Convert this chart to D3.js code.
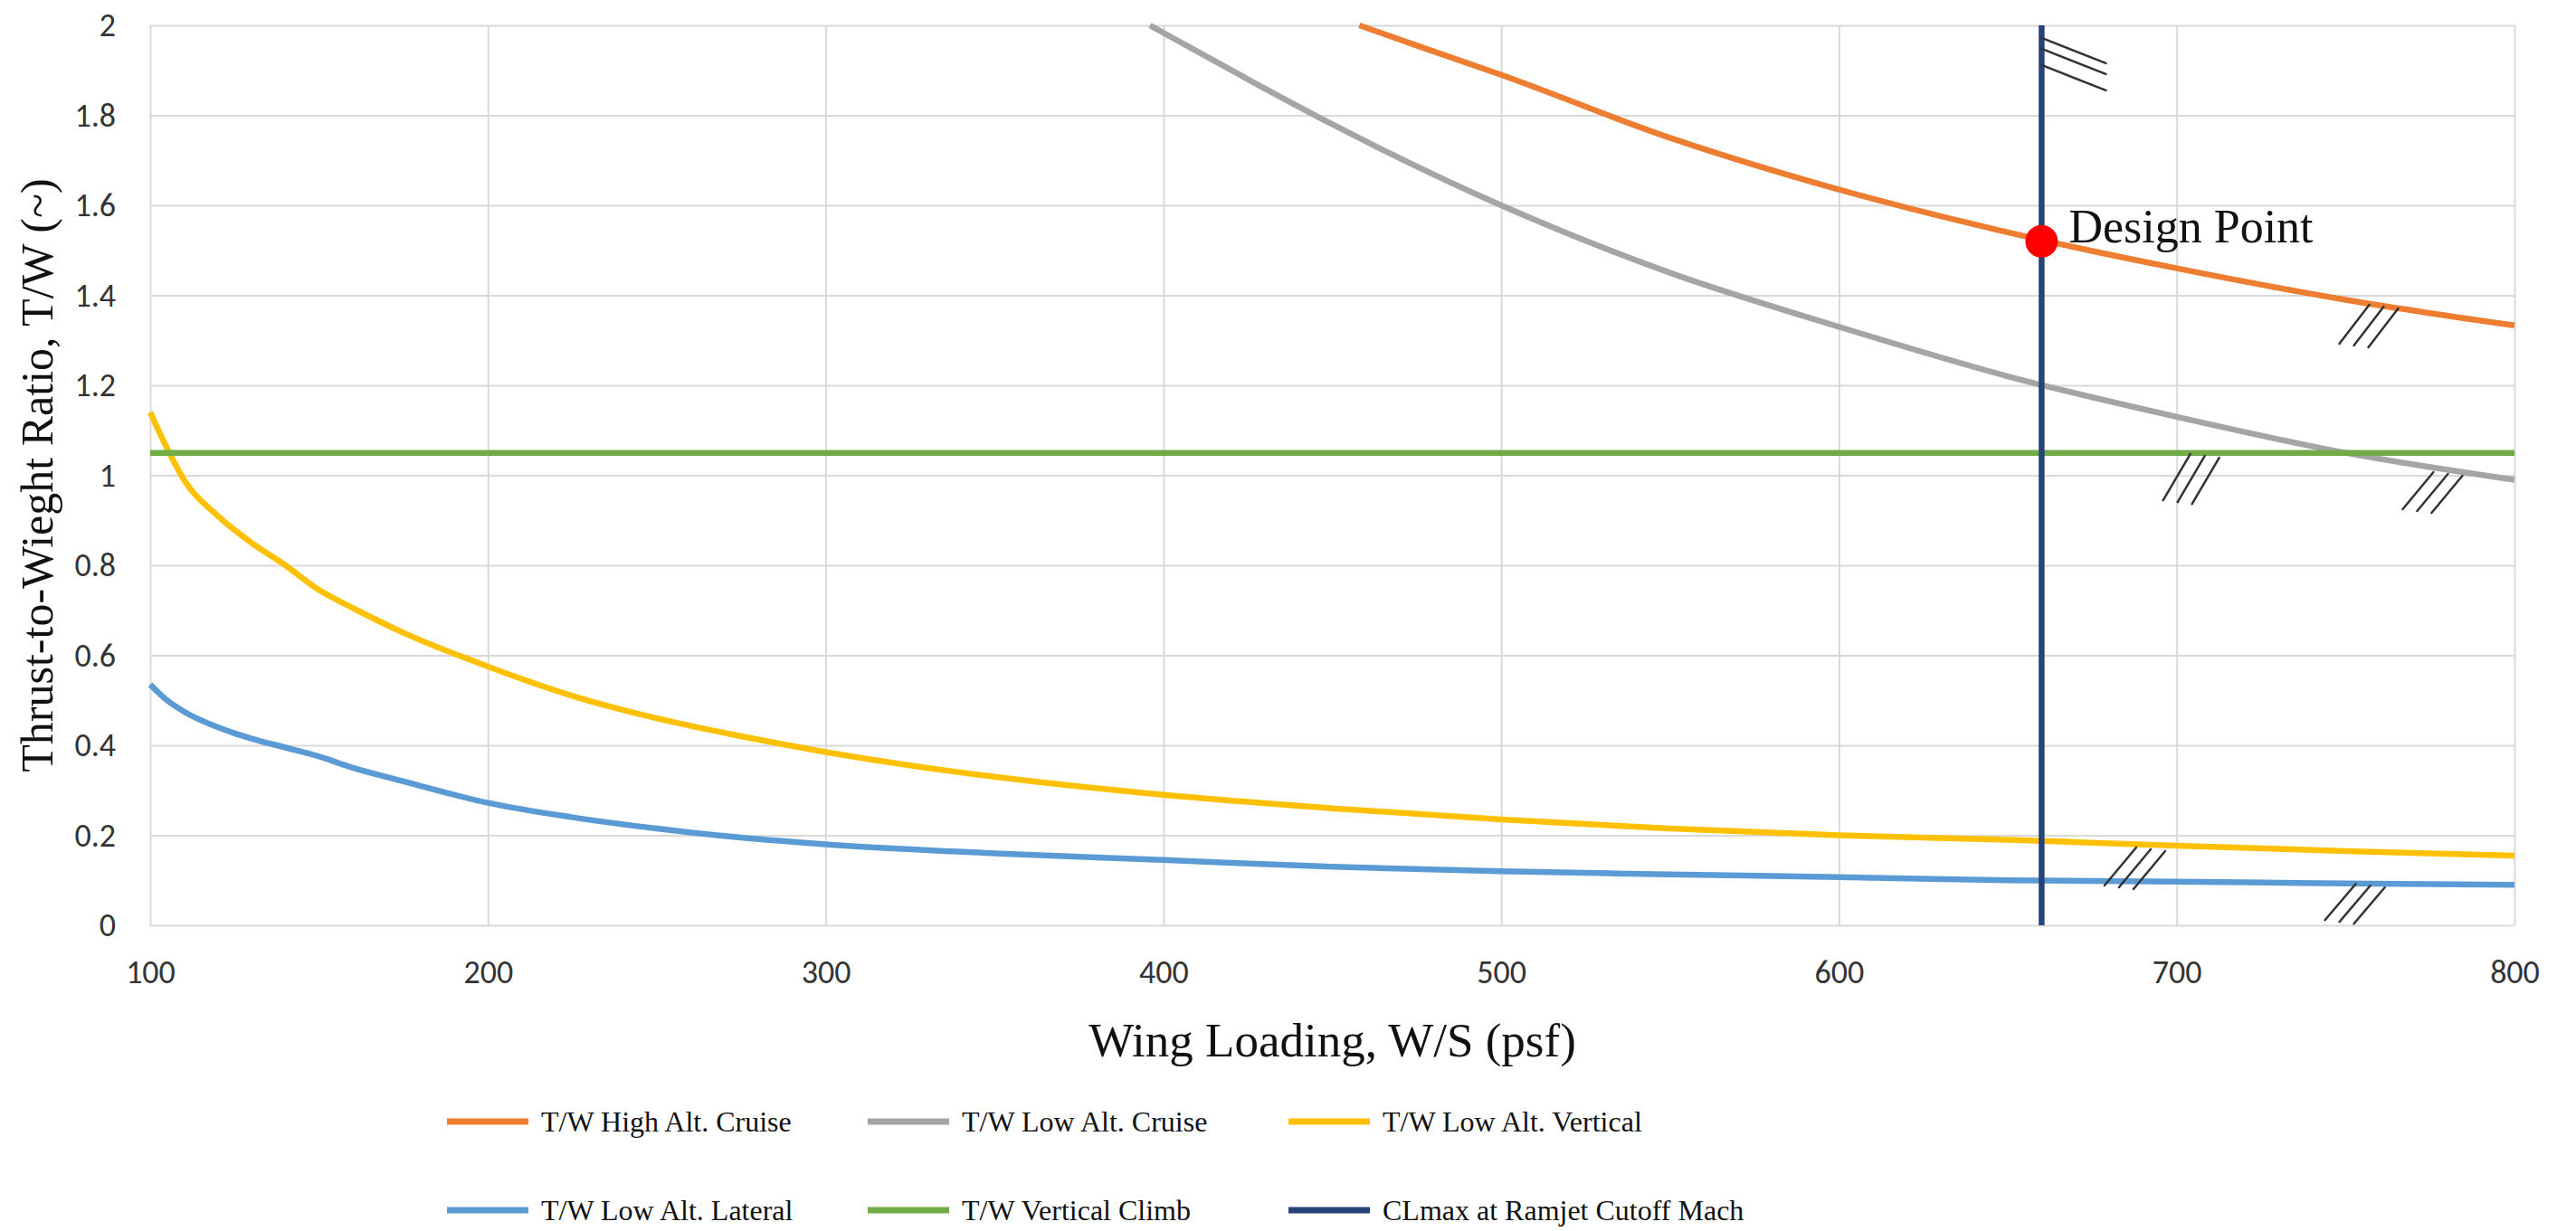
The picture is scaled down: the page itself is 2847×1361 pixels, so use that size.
<!DOCTYPE html>
<html>
<head>
<meta charset="utf-8">
<script src="https://cdn.jsdelivr.net/npm/d3@7"></script>
<style>
  body { margin: 0; background: #fff; }
  svg { display: block; }
</style>
</head>
<body>
<div id="chart"></div>
<script>
// Wing loading (psf) samples for the low altitude curves
const wsLow = [100, 105, 110, 120, 130, 140, 150, 160, 175, 200, 225, 250, 275, 300, 350, 400, 450, 500, 550, 600, 650, 700, 750, 800];
const lowAltVertical = [1.14, 1.06, 0.99, 0.91, 0.85, 0.80, 0.745, 0.705, 0.65, 0.575, 0.51, 0.46, 0.42, 0.385, 0.33, 0.29, 0.26, 0.235, 0.215, 0.20, 0.19, 0.177, 0.165, 0.155];
const lowAltLateral = [0.535, 0.50, 0.475, 0.44, 0.415, 0.395, 0.375, 0.35, 0.32, 0.272, 0.24, 0.215, 0.195, 0.18, 0.16, 0.145, 0.13, 0.12, 0.113, 0.107, 0.10, 0.097, 0.093, 0.09];

const wsHighCruise = [458, 475, 500, 550, 600, 650, 700, 750, 800];
const highAltCruise = [2.0, 1.955, 1.89, 1.75, 1.635, 1.54, 1.46, 1.39, 1.333];

const wsLowCruise = [396, 425, 450, 500, 550, 600, 650, 700, 750, 800];
const lowAltCruise = [2.0, 1.88, 1.78, 1.60, 1.45, 1.33, 1.22, 1.13, 1.05, 0.99];

const wsClimb = [100, 800];
const verticalClimb = [1.05, 1.05];

const wsCutoff = [660, 660];
const clmaxCutoff = [0, 2];

const designWS = 660;
const designTW = 1.52;

// hatch marks (anchor points on the constraint lines)
const hatchWS = [660, 757, 704, 776, 688, 753];
const hatchTW = [1.972, 1.379, 1.047, 1.007, 0.173, 0.092];

const xTicks = [100, 200, 300, 400, 500, 600, 700, 800];
const yTicks = [0, 0.2, 0.4, 0.6, 0.8, 1, 1.2, 1.4, 1.6, 1.8, 2];

const seriesNames = ["T/W High Alt. Cruise", "T/W Low Alt. Cruise", "T/W Low Alt. Vertical",
                     "T/W Low Alt. Lateral", "T/W Vertical Climb", "CLmax at Ramjet Cutoff Mach"];
const colors = ["#ED7D31", "#A5A5A5", "#FFC000", "#5B9BD5", "#70AD47", "#264478"];

const series = [
    { xs: wsHighCruise, ys: highAltCruise },
    { xs: wsLowCruise, ys: lowAltCruise },
    { xs: wsLow, ys: lowAltVertical },
    { xs: wsLow, ys: lowAltLateral },
    { xs: wsClimb, ys: verticalClimb },
    { xs: wsCutoff, ys: clmaxCutoff }
];

const W = 2847, H = 1361;
const margin = { top: 28, right: 68, bottom: 338, left: 166 };
const width = W - margin.left - margin.right;
const height = H - margin.top - margin.bottom;

const svg = d3.select("#chart")
    .append("svg")
    .attr("width", W)
    .attr("height", H);

const g = svg.append("g")
    .attr("transform", `translate(${margin.left},${margin.top})`);

const x = d3.scaleLinear().domain([100, 800]).range([0, width]);
const y = d3.scaleLinear().domain([0, 2]).range([height, 0]);

const tickFont = "Carlito, Calibri, Lato, sans-serif";
const serif = "'Liberation Serif', 'Times New Roman', serif";

// gridlines + tick labels
const xAxis = g.append("g")
    .attr("transform", `translate(0,${height})`)
    .call(d3.axisBottom(x).tickValues(xTicks).tickSize(-height).tickPadding(38).tickFormat(d3.format("d")));
const yAxis = g.append("g")
    .call(d3.axisLeft(y).tickValues(yTicks).tickSize(-width).tickPadding(38).tickFormat(d => d3.format("~g")(d)));

[xAxis, yAxis].forEach(a => {
    a.select(".domain").remove();
    a.selectAll(".tick line").attr("stroke", "#d9d9d9").attr("stroke-width", 2);
    a.selectAll(".tick text")
        .attr("fill", "#333")
        .style("font-family", tickFont)
        .style("font-size", "36px");
});

// curves
const smooth = d3.line()
    .x(d => x(d[0]))
    .y(d => y(d[1]))
    .curve(d3.curveMonotoneX);
const straight = d3.line()
    .x(d => x(d[0]))
    .y(d => y(d[1]));

series.forEach((s, i) => {
    const pts = s.xs.map((v, k) => [v, s.ys[k]]);
    g.append("path")
        .datum(pts)
        .attr("fill", "none")
        .attr("stroke", colors[i])
        .attr("stroke-width", 6.5)
        .attr("d", i === 5 ? straight : smooth);
});

// hatch marks
const hatchDir = [[71, 28], [-33, 43], [-30, 51], [-34, 41], [-35, 42], [-34, 40]];
hatchWS.forEach((v, i) => {
    const ax = x(v), ay = y(hatchTW[i]);
    const offs = i === 0 ? [[0, 0], [0, 12], [0, 30]] : [[0, 0], [16, 2], [32, 4]];
    offs.forEach(o => {
        g.append("line")
            .attr("x1", ax + o[0]).attr("y1", ay + o[1])
            .attr("x2", ax + o[0] + hatchDir[i][0]).attr("y2", ay + o[1] + hatchDir[i][1])
            .attr("stroke", "#333")
            .attr("stroke-width", 2.5)
            .attr("stroke-linecap", "round");
    });
});

// design point
g.append("circle")
    .attr("cx", x(designWS))
    .attr("cy", y(designTW))
    .attr("r", 18)
    .attr("fill", "#FF0000");
g.append("text")
    .attr("x", x(designWS) + 30)
    .attr("y", y(designTW) + 1)
    .style("font-family", serif)
    .style("font-size", "52px")
    .attr("fill", "#111")
    .text("Design Point");

// axis titles
svg.append("text")
    .attr("x", margin.left + width / 2)
    .attr("y", 1168)
    .attr("text-anchor", "middle")
    .style("font-family", serif)
    .style("font-size", "53px")
    .attr("fill", "#111")
    .text("Wing Loading, W/S (psf)");

svg.append("text")
    .attr("transform", `translate(58,${margin.top + height / 2}) rotate(-90)`)
    .attr("text-anchor", "middle")
    .style("font-family", serif)
    .style("font-size", "50px")
    .attr("fill", "#111")
    .text("Thrust-to-Wieght Ratio, T/W (~)");

// legend
const legCols = [494, 959, 1424];
const legRows = [1240, 1338];
seriesNames.forEach((name, i) => {
    const lx = legCols[i % 3], ly = legRows[Math.floor(i / 3)];
    svg.append("line")
        .attr("x1", lx).attr("x2", lx + 90)
        .attr("y1", ly).attr("y2", ly)
        .attr("stroke", colors[i])
        .attr("stroke-width", 7);
    svg.append("text")
        .attr("x", lx + 104)
        .attr("y", ly)
        .attr("dy", "0.35em")
        .style("font-family", serif)
        .style("font-size", "32px")
        .attr("fill", "#111")
        .text(name);
});
</script>
</body>
</html>
